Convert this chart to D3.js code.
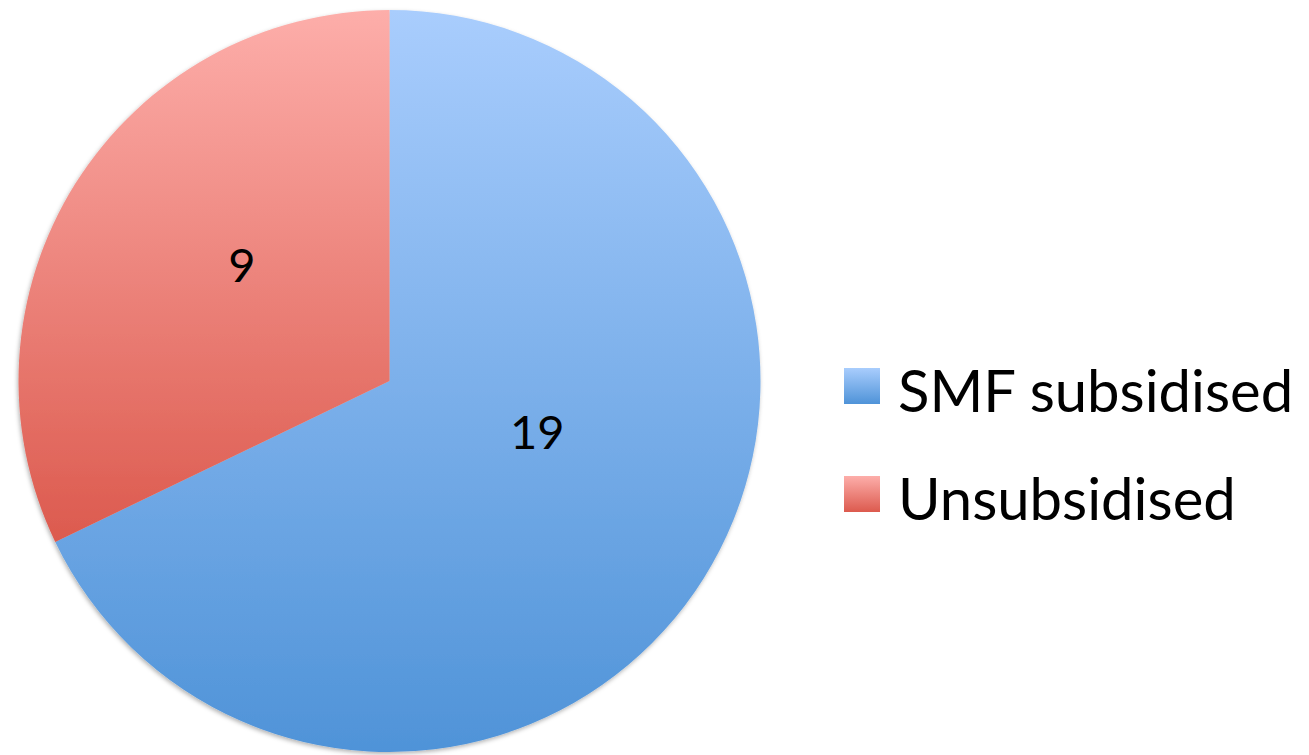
<!DOCTYPE html>
<html>
<head>
<meta charset="utf-8">
<script src="https://cdn.jsdelivr.net/npm/d3@7"></script>
<style>
  body { margin: 0; background: #fff; }
  text { font-family: Lato, "Open Sans", sans-serif; fill: #000; }
</style>
</head>
<body>
<svg id="chart"></svg>
<script>
// data
var categories = ['SMF subsidised', 'Unsubsidised'];
var values = [19, 9];
var topColors = ['#a9cdfd', '#fdaeaa'];
var bottomColors = ['#4f93d8', '#dc5a4e'];

var svgWidth = 1309;
var svgHeight = 755;
var cx = 389.5, cy = 381, radius = 371;

var svg = d3.select('#chart')
    .attr('width', svgWidth)
    .attr('height', svgHeight);

var defs = svg.append('defs');

// one vertical gradient per slice
categories.forEach(function(c, i) {
    var g = defs.append('linearGradient')
        .attr('id', 'grad' + i)
        .attr('x1', 0).attr('y1', 0)
        .attr('x2', 0).attr('y2', 1);
    g.append('stop').attr('offset', '0%').attr('stop-color', topColors[i]);
    g.append('stop').attr('offset', '100%').attr('stop-color', bottomColors[i]);
});

var shadow = defs.append('filter')
    .attr('id', 'shadow')
    .attr('x', '-5%').attr('y', '-5%')
    .attr('width', '110%').attr('height', '110%');
shadow.append('feDropShadow')
    .attr('dx', -1).attr('dy', 2)
    .attr('stdDeviation', 2)
    .attr('flood-color', '#000')
    .attr('flood-opacity', 0.3);

var pie = d3.pie().sort(null).value(function(d) { return d; });
var arcs = pie(values);

var arc = d3.arc().innerRadius(0).outerRadius(radius);
var labelArc = d3.arc().innerRadius(radius * 0.47).outerRadius(radius * 0.47);

var g = svg.append('g')
    .attr('transform', 'translate(' + cx + ',' + cy + ')');

g.append('g')
    .attr('filter', 'url(#shadow)')
    .selectAll('path')
    .data(arcs)
    .enter()
    .append('path')
    .attr('d', arc)
    .attr('fill', function(d, i) { return 'url(#grad' + i + ')'; });

// labels sit a little above the centroid in the original
var labelLift = [41, 23];

g.selectAll('text.value')
    .data(arcs)
    .enter()
    .append('text')
    .attr('class', 'value')
    .attr('transform', function(d, i) {
        var c = labelArc.centroid(d);
        c[1] -= labelLift[i];
        return 'translate(' + c + ')';
    })
    .attr('text-anchor', 'middle')
    .attr('dy', '0.35em')
    .style('font-size', '47px')
    .text(function(d) { return d.value; });

// legend
var legend = svg.append('g')
    .attr('transform', 'translate(844,368)');

var item = legend.selectAll('g')
    .data(categories)
    .enter()
    .append('g')
    .attr('transform', function(d, i) { return 'translate(0,' + (i * 108) + ')'; });

item.append('rect')
    .attr('width', 36)
    .attr('height', 36)
    .attr('fill', function(d, i) { return 'url(#grad' + i + ')'; });

item.append('text')
    .attr('x', 54)
    .attr('y', 44)
    .style('font-size', '58px')
    .text(function(d) { return d; });
</script>
</body>
</html>
